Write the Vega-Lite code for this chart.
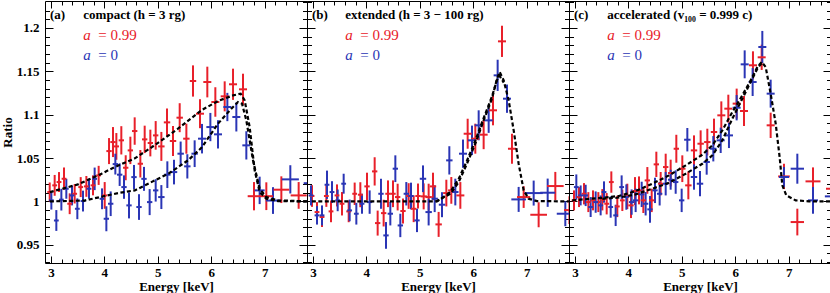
{
"$schema": "https://vega.github.io/schema/vega-lite/v6.json",
"padding": {"left": 0, "top": 0, "right": 1, "bottom": 0},
"spacing": 0,
"bounds": "flush",
"config": {
 "font": "Liberation Serif",
 "view": {"stroke": "black", "strokeWidth": 1},
 "axis": {"labelFont": "Liberation Serif", "labelFontWeight": "bold", "labelFontSize": 13, "labelColor": "black", "titleFont": "Liberation Serif", "titleFontWeight": "bold", "titleFontSize": 13, "titleColor": "black", "domain": false, "grid": false, "tickColor": "black", "tickWidth": 1, "labelOverlap": false, "labelFlush": false, "labelBound": false}
},
"datasets": {
 "pts": [
{"p":"a","s":"r","e":2.978,"xe":0.045,"r":1.0108,"ye":0.011},{"p":"a","s":"r","e":3.071,"xe":0.045,"r":1.0185,"ye":0.012},{"p":"a","s":"r","e":3.152,"xe":0.045,"r":1.0223,"ye":0.0115},{"p":"a","s":"r","e":3.246,"xe":0.045,"r":1.0261,"ye":0.013},{"p":"a","s":"r","e":3.352,"xe":0.045,"r":0.9973,"ye":0.012},{"p":"a","s":"r","e":3.445,"xe":0.045,"r":1.0088,"ye":0.0112},{"p":"a","s":"r","e":3.558,"xe":0.045,"r":1.0165,"ye":0.0115},{"p":"a","s":"r","e":3.664,"xe":0.045,"r":1.0173,"ye":0.012},{"p":"a","s":"r","e":3.788,"xe":0.045,"r":1.0185,"ye":0.0115},{"p":"a","s":"r","e":3.894,"xe":0.045,"r":1.030,"ye":0.011},
{"p":"a","s":"r","e":4.007,"xe":0.05,"r":1.0069,"ye":0.0154},{"p":"a","s":"r","e":4.088,"xe":0.05,"r":1.058,"ye":0.015},{"p":"a","s":"r","e":4.162,"xe":0.05,"r":1.0684,"ye":0.0173},{"p":"a","s":"r","e":4.225,"xe":0.05,"r":1.0634,"ye":0.0154},{"p":"a","s":"r","e":4.318,"xe":0.05,"r":1.0704,"ye":0.0163},{"p":"a","s":"r","e":4.400,"xe":0.05,"r":1.0388,"ye":0.0144},{"p":"a","s":"r","e":4.487,"xe":0.05,"r":1.0588,"ye":0.0158},{"p":"a","s":"r","e":4.568,"xe":0.05,"r":1.0811,"ye":0.0158},{"p":"a","s":"r","e":4.674,"xe":0.05,"r":1.0434,"ye":0.0158},{"p":"a","s":"r","e":4.755,"xe":0.05,"r":1.0715,"ye":0.0158},{"p":"a","s":"r","e":4.861,"xe":0.05,"r":1.0673,"ye":0.0154},{"p":"a","s":"r","e":4.961,"xe":0.05,"r":1.0761,"ye":0.0165},
{"p":"a","s":"r","e":5.067,"xe":0.06,"r":1.0634,"ye":0.0167},{"p":"a","s":"r","e":5.173,"xe":0.06,"r":1.0911,"ye":0.016},{"p":"a","s":"r","e":5.285,"xe":0.06,"r":1.0696,"ye":0.0173},{"p":"a","s":"r","e":5.410,"xe":0.06,"r":1.0965,"ye":0.0167},{"p":"a","s":"r","e":5.535,"xe":0.06,"r":1.0723,"ye":0.0173},{"p":"a","s":"r","e":5.659,"xe":0.06,"r":1.1388,"ye":0.018},{"p":"a","s":"r","e":5.790,"xe":0.075,"r":1.1011,"ye":0.0167},{"p":"a","s":"r","e":5.927,"xe":0.075,"r":1.1376,"ye":0.0177},{"p":"a","s":"r","e":6.077,"xe":0.075,"r":1.1146,"ye":0.017},{"p":"a","s":"r","e":6.252,"xe":0.075,"r":1.1211,"ye":0.0173},{"p":"a","s":"r","e":6.408,"xe":0.075,"r":1.135,"ye":0.018},{"p":"a","s":"r","e":6.595,"xe":0.075,"r":1.1292,"ye":0.018},{"p":"a","s":"r","e":6.800,"xe":0.118,"r":1.006,"ye":0.0163},{"p":"a","s":"r","e":7.031,"xe":0.125,"r":1.006,"ye":0.016},{"p":"a","s":"r","e":7.312,"xe":0.147,"r":1.0135,"ye":0.0154},{"p":"a","s":"r","e":7.636,"xe":0.15,"r":1.0069,"ye":0.0154},
{"p":"a","s":"b","e":3.009,"xe":0.045,"r":1.0012,"ye":0.0106},{"p":"a","s":"b","e":3.102,"xe":0.045,"r":0.978,"ye":0.012},{"p":"a","s":"b","e":3.196,"xe":0.045,"r":1.002,"ye":0.0125},{"p":"a","s":"b","e":3.289,"xe":0.045,"r":1.0146,"ye":0.0115},{"p":"a","s":"b","e":3.395,"xe":0.045,"r":1.0069,"ye":0.0115},{"p":"a","s":"b","e":3.495,"xe":0.045,"r":0.9915,"ye":0.012},{"p":"a","s":"b","e":3.601,"xe":0.045,"r":1.0004,"ye":0.012},{"p":"a","s":"b","e":3.713,"xe":0.045,"r":1.0146,"ye":0.0115},{"p":"a","s":"b","e":3.819,"xe":0.045,"r":1.026,"ye":0.013},{"p":"a","s":"b","e":3.957,"xe":0.045,"r":1.003,"ye":0.012},
{"p":"a","s":"b","e":4.038,"xe":0.05,"r":0.98,"ye":0.0144},{"p":"a","s":"b","e":4.119,"xe":0.05,"r":0.9973,"ye":0.0142},{"p":"a","s":"b","e":4.206,"xe":0.05,"r":1.043,"ye":0.012},{"p":"a","s":"b","e":4.287,"xe":0.05,"r":1.0308,"ye":0.013},{"p":"a","s":"b","e":4.368,"xe":0.05,"r":1.0165,"ye":0.0135},{"p":"a","s":"b","e":4.462,"xe":0.05,"r":0.9954,"ye":0.015},{"p":"a","s":"b","e":4.555,"xe":0.05,"r":1.028,"ye":0.014},{"p":"a","s":"b","e":4.649,"xe":0.05,"r":0.9935,"ye":0.0148},{"p":"a","s":"b","e":4.742,"xe":0.05,"r":1.026,"ye":0.0138},{"p":"a","s":"b","e":4.848,"xe":0.05,"r":0.9992,"ye":0.015},{"p":"a","s":"b","e":4.961,"xe":0.05,"r":1.0127,"ye":0.0129},
{"p":"a","s":"b","e":5.067,"xe":0.06,"r":1.005,"ye":0.0138},{"p":"a","s":"b","e":5.179,"xe":0.06,"r":1.0308,"ye":0.0154},{"p":"a","s":"b","e":5.304,"xe":0.06,"r":1.0338,"ye":0.0142},{"p":"a","s":"b","e":5.428,"xe":0.06,"r":1.055,"ye":0.014},{"p":"a","s":"b","e":5.553,"xe":0.06,"r":1.0404,"ye":0.014},{"p":"a","s":"b","e":5.690,"xe":0.06,"r":1.055,"ye":0.0154},{"p":"a","s":"b","e":5.828,"xe":0.075,"r":1.0723,"ye":0.017},{"p":"a","s":"b","e":5.984,"xe":0.075,"r":1.0857,"ye":0.0163},{"p":"a","s":"b","e":6.127,"xe":0.075,"r":1.0773,"ye":0.0163},{"p":"a","s":"b","e":6.302,"xe":0.075,"r":1.1088,"ye":0.0163},{"p":"a","s":"b","e":6.470,"xe":0.075,"r":1.0973,"ye":0.0167},{"p":"a","s":"b","e":6.657,"xe":0.075,"r":1.0646,"ye":0.0163},{"p":"a","s":"b","e":6.906,"xe":0.094,"r":1.0127,"ye":0.0158},{"p":"a","s":"b","e":7.156,"xe":0.134,"r":1.001,"ye":0.0154},{"p":"a","s":"b","e":7.48,"xe":0.16,"r":1.0254,"ye":0.0163},{"p":"a","s":"b","e":7.85,"xe":0.12,"r":1.021,"ye":0.016},
{"p":"b","s":"r","e":2.984,"xe":0.045,"r":1.0062,"ye":0.0125},{"p":"b","s":"r","e":3.077,"xe":0.045,"r":0.9877,"ye":0.0115},{"p":"b","s":"r","e":3.171,"xe":0.045,"r":0.982,"ye":0.0115},{"p":"b","s":"r","e":3.252,"xe":0.045,"r":1.0062,"ye":0.0125},{"p":"b","s":"r","e":3.339,"xe":0.045,"r":0.9885,"ye":0.0125},{"p":"b","s":"r","e":3.451,"xe":0.045,"r":1.0069,"ye":0.0127},{"p":"b","s":"r","e":3.545,"xe":0.045,"r":0.9973,"ye":0.0135},{"p":"b","s":"r","e":3.67,"xe":0.045,"r":0.9885,"ye":0.0125},{"p":"b","s":"r","e":3.782,"xe":0.045,"r":1.0088,"ye":0.0129},{"p":"b","s":"r","e":3.888,"xe":0.045,"r":1.0077,"ye":0.0144},
{"p":"b","s":"r","e":4.013,"xe":0.05,"r":1.0173,"ye":0.0158},{"p":"b","s":"r","e":4.156,"xe":0.05,"r":1.0346,"ye":0.0163},{"p":"b","s":"r","e":4.212,"xe":0.05,"r":0.975,"ye":0.0144},{"p":"b","s":"r","e":4.324,"xe":0.05,"r":0.9865,"ye":0.0154},{"p":"b","s":"r","e":4.405,"xe":0.05,"r":1.0088,"ye":0.0154},{"p":"b","s":"r","e":4.499,"xe":0.05,"r":1.0088,"ye":0.0154},{"p":"b","s":"r","e":4.586,"xe":0.05,"r":1.005,"ye":0.0154},{"p":"b","s":"r","e":4.686,"xe":0.05,"r":0.9889,"ye":0.0144},{"p":"b","s":"r","e":4.792,"xe":0.05,"r":1.0062,"ye":0.0148},{"p":"b","s":"r","e":4.886,"xe":0.05,"r":0.9915,"ye":0.0154},{"p":"b","s":"r","e":4.967,"xe":0.05,"r":1.0062,"ye":0.0144},
{"p":"b","s":"r","e":5.073,"xe":0.06,"r":1.0058,"ye":0.015},{"p":"b","s":"r","e":5.166,"xe":0.06,"r":1.005,"ye":0.0154},{"p":"b","s":"r","e":5.247,"xe":0.06,"r":1.0173,"ye":0.0158},{"p":"b","s":"r","e":5.353,"xe":0.06,"r":0.9735,"ye":0.0144},{"p":"b","s":"r","e":5.497,"xe":0.06,"r":1.0096,"ye":0.0154},{"p":"b","s":"r","e":5.59,"xe":0.06,"r":1.0127,"ye":0.0154},{"p":"b","s":"r","e":5.759,"xe":0.075,"r":1.0069,"ye":0.0154},{"p":"b","s":"r","e":5.896,"xe":0.075,"r":1.078,"ye":0.0173},{"p":"b","s":"r","e":6.039,"xe":0.075,"r":1.0723,"ye":0.0173},{"p":"b","s":"r","e":6.195,"xe":0.075,"r":1.0769,"ye":0.0167},{"p":"b","s":"r","e":6.37,"xe":0.075,"r":1.105,"ye":0.0173},{"p":"b","s":"r","e":6.538,"xe":0.075,"r":1.1845,"ye":0.018},{"p":"b","s":"r","e":6.725,"xe":0.075,"r":1.0607,"ye":0.0173},{"p":"b","s":"r","e":6.944,"xe":0.125,"r":1.005,"ye":0.0125},{"p":"b","s":"r","e":7.224,"xe":0.156,"r":0.9846,"ye":0.0144},{"p":"b","s":"r","e":7.536,"xe":0.156,"r":1.0177,"ye":0.0163},{"p":"b","s":"r","e":7.8,"xe":0.1,"r":0.99,"ye":0.016},
{"p":"b","s":"b","e":2.965,"xe":0.045,"r":1.0069,"ye":0.0115},{"p":"b","s":"b","e":3.077,"xe":0.045,"r":0.9839,"ye":0.0106},{"p":"b","s":"b","e":3.171,"xe":0.045,"r":0.9839,"ye":0.0115},{"p":"b","s":"b","e":3.264,"xe":0.045,"r":1.0192,"ye":0.0163},{"p":"b","s":"b","e":3.358,"xe":0.045,"r":1.0108,"ye":0.0125},{"p":"b","s":"b","e":3.464,"xe":0.045,"r":1.0012,"ye":0.0125},{"p":"b","s":"b","e":3.576,"xe":0.045,"r":1.0204,"ye":0.0115},{"p":"b","s":"b","e":3.688,"xe":0.045,"r":0.9896,"ye":0.0125},{"p":"b","s":"b","e":3.813,"xe":0.045,"r":0.9858,"ye":0.0125},{"p":"b","s":"b","e":3.919,"xe":0.045,"r":0.9973,"ye":0.0115},
{"p":"b","s":"b","e":4.062,"xe":0.05,"r":0.9992,"ye":0.0135},{"p":"b","s":"b","e":4.274,"xe":0.05,"r":1.0088,"ye":0.0173},{"p":"b","s":"b","e":4.368,"xe":0.05,"r":0.9608,"ye":0.0154},{"p":"b","s":"b","e":4.449,"xe":0.05,"r":0.9858,"ye":0.0135},{"p":"b","s":"b","e":4.543,"xe":0.05,"r":1.0377,"ye":0.0154},{"p":"b","s":"b","e":4.636,"xe":0.05,"r":0.9723,"ye":0.0135},{"p":"b","s":"b","e":4.748,"xe":0.05,"r":1.0088,"ye":0.0135},{"p":"b","s":"b","e":4.836,"xe":0.05,"r":1.0062,"ye":0.0154},{"p":"b","s":"b","e":4.948,"xe":0.05,"r":0.9781,"ye":0.0135},
{"p":"b","s":"b","e":5.06,"xe":0.06,"r":1.0261,"ye":0.0154},{"p":"b","s":"b","e":5.166,"xe":0.06,"r":0.9877,"ye":0.0154},{"p":"b","s":"b","e":5.279,"xe":0.06,"r":1.0031,"ye":0.0154},{"p":"b","s":"b","e":5.416,"xe":0.06,"r":0.9962,"ye":0.0144},{"p":"b","s":"b","e":5.553,"xe":0.06,"r":1.0473,"ye":0.0163},{"p":"b","s":"b","e":5.665,"xe":0.06,"r":1.0108,"ye":0.0154},{"p":"b","s":"b","e":5.809,"xe":0.075,"r":1.055,"ye":0.0163},{"p":"b","s":"b","e":5.977,"xe":0.075,"r":1.0704,"ye":0.017},{"p":"b","s":"b","e":6.102,"xe":0.075,"r":1.0877,"ye":0.0173},{"p":"b","s":"b","e":6.289,"xe":0.075,"r":1.0934,"ye":0.0144},{"p":"b","s":"b","e":6.457,"xe":0.075,"r":1.1453,"ye":0.018},{"p":"b","s":"b","e":6.632,"xe":0.075,"r":1.1184,"ye":0.0163},{"p":"b","s":"b","e":6.85,"xe":0.137,"r":1.0023,"ye":0.0144},{"p":"b","s":"b","e":7.131,"xe":0.17,"r":1.0096,"ye":0.0144},{"p":"b","s":"b","e":7.393,"xe":0.14,"r":1.01,"ye":0.0163},{"p":"b","s":"b","e":7.723,"xe":0.16,"r":0.9858,"ye":0.0144},
{"p":"c","s":"r","e":2.984,"xe":0.045,"r":1.0012,"ye":0.0115},{"p":"c","s":"r","e":3.077,"xe":0.045,"r":1.005,"ye":0.0115},{"p":"c","s":"r","e":3.171,"xe":0.045,"r":1.0088,"ye":0.0123},{"p":"c","s":"r","e":3.252,"xe":0.045,"r":0.9992,"ye":0.0115},{"p":"c","s":"r","e":3.339,"xe":0.045,"r":1.0012,"ye":0.0115},{"p":"c","s":"r","e":3.439,"xe":0.045,"r":0.9992,"ye":0.0115},{"p":"c","s":"r","e":3.514,"xe":0.045,"r":1.0019,"ye":0.0123},{"p":"c","s":"r","e":3.595,"xe":0.045,"r":0.9973,"ye":0.0123},{"p":"c","s":"r","e":3.682,"xe":0.045,"r":1.0223,"ye":0.0123},{"p":"c","s":"r","e":3.794,"xe":0.045,"r":0.9942,"ye":0.0123},{"p":"c","s":"r","e":3.888,"xe":0.045,"r":1.0012,"ye":0.0123},{"p":"c","s":"r","e":3.981,"xe":0.045,"r":1.0058,"ye":0.0146},
{"p":"c","s":"r","e":4.05,"xe":0.05,"r":0.9954,"ye":0.0146},{"p":"c","s":"r","e":4.125,"xe":0.05,"r":1.0119,"ye":0.0161},{"p":"c","s":"r","e":4.2,"xe":0.05,"r":1.0127,"ye":0.0161},{"p":"c","s":"r","e":4.281,"xe":0.05,"r":1.0012,"ye":0.0146},{"p":"c","s":"r","e":4.356,"xe":0.05,"r":1.0242,"ye":0.0154},{"p":"c","s":"r","e":4.437,"xe":0.05,"r":1.0012,"ye":0.0135},{"p":"c","s":"r","e":4.524,"xe":0.05,"r":1.0427,"ye":0.0146},{"p":"c","s":"r","e":4.605,"xe":0.05,"r":1.0204,"ye":0.0135},{"p":"c","s":"r","e":4.699,"xe":0.05,"r":1.0396,"ye":0.0154},{"p":"c","s":"r","e":4.792,"xe":0.05,"r":1.0327,"ye":0.0154},{"p":"c","s":"r","e":4.898,"xe":0.05,"r":1.0607,"ye":0.0161},
{"p":"c","s":"r","e":5.01,"xe":0.06,"r":1.0377,"ye":0.0154},{"p":"c","s":"r","e":5.123,"xe":0.06,"r":1.0185,"ye":0.0161},{"p":"c","s":"r","e":5.229,"xe":0.06,"r":1.0588,"ye":0.0173},{"p":"c","s":"r","e":5.353,"xe":0.06,"r":1.0665,"ye":0.0154},{"p":"c","s":"r","e":5.478,"xe":0.06,"r":1.0684,"ye":0.0154},{"p":"c","s":"r","e":5.603,"xe":0.06,"r":1.08,"ye":0.0154},{"p":"c","s":"r","e":5.74,"xe":0.075,"r":1.0992,"ye":0.0161},{"p":"c","s":"r","e":5.871,"xe":0.075,"r":1.1069,"ye":0.0161},{"p":"c","s":"r","e":6.027,"xe":0.075,"r":1.1127,"ye":0.0173},{"p":"c","s":"r","e":6.164,"xe":0.075,"r":1.1042,"ye":0.0173},{"p":"c","s":"r","e":6.332,"xe":0.075,"r":1.1569,"ye":0.0161},{"p":"c","s":"r","e":6.495,"xe":0.075,"r":1.1661,"ye":0.0146},{"p":"c","s":"r","e":6.663,"xe":0.075,"r":1.0877,"ye":0.0146},{"p":"c","s":"r","e":6.912,"xe":0.109,"r":1.0288,"ye":0.0146},{"p":"c","s":"r","e":7.162,"xe":0.125,"r":0.9762,"ye":0.0154},{"p":"c","s":"r","e":7.455,"xe":0.14,"r":1.0231,"ye":0.0161},{"p":"c","s":"r","e":7.848,"xe":0.15,"r":1.0146,"ye":0.016},
{"p":"c","s":"b","e":3.027,"xe":0.045,"r":1.0165,"ye":0.0146},{"p":"c","s":"b","e":3.108,"xe":0.045,"r":1.0069,"ye":0.0115},{"p":"c","s":"b","e":3.202,"xe":0.045,"r":1.0069,"ye":0.0123},{"p":"c","s":"b","e":3.295,"xe":0.045,"r":0.9935,"ye":0.0115},{"p":"c","s":"b","e":3.389,"xe":0.045,"r":0.9992,"ye":0.0123},{"p":"c","s":"b","e":3.482,"xe":0.045,"r":0.9954,"ye":0.0115},{"p":"c","s":"b","e":3.545,"xe":0.045,"r":1.0108,"ye":0.0123},{"p":"c","s":"b","e":3.67,"xe":0.045,"r":0.9935,"ye":0.0123},{"p":"c","s":"b","e":3.763,"xe":0.045,"r":0.9839,"ye":0.0123},{"p":"c","s":"b","e":3.875,"xe":0.045,"r":1.0165,"ye":0.0135},{"p":"c","s":"b","e":3.963,"xe":0.045,"r":1.005,"ye":0.0146},
{"p":"c","s":"b","e":4.062,"xe":0.05,"r":0.9992,"ye":0.0146},{"p":"c","s":"b","e":4.137,"xe":0.05,"r":1.0012,"ye":0.0135},{"p":"c","s":"b","e":4.25,"xe":0.05,"r":1.0081,"ye":0.0146},{"p":"c","s":"b","e":4.324,"xe":0.05,"r":0.9973,"ye":0.0135},{"p":"c","s":"b","e":4.405,"xe":0.05,"r":0.9908,"ye":0.0154},{"p":"c","s":"b","e":4.499,"xe":0.05,"r":1.0127,"ye":0.0146},{"p":"c","s":"b","e":4.586,"xe":0.05,"r":1.0088,"ye":0.0135},{"p":"c","s":"b","e":4.699,"xe":0.05,"r":1.0204,"ye":0.0135},{"p":"c","s":"b","e":4.792,"xe":0.05,"r":1.025,"ye":0.0115},{"p":"c","s":"b","e":4.886,"xe":0.05,"r":1.0223,"ye":0.0135},{"p":"c","s":"b","e":4.998,"xe":0.05,"r":1.0012,"ye":0.0135},
{"p":"c","s":"b","e":5.104,"xe":0.06,"r":1.0711,"ye":0.0135},{"p":"c","s":"b","e":5.229,"xe":0.06,"r":1.0281,"ye":0.0146},{"p":"c","s":"b","e":5.341,"xe":0.06,"r":1.0204,"ye":0.0146},{"p":"c","s":"b","e":5.466,"xe":0.06,"r":1.0454,"ye":0.0146},{"p":"c","s":"b","e":5.59,"xe":0.06,"r":1.0607,"ye":0.0146},{"p":"c","s":"b","e":5.728,"xe":0.075,"r":1.0704,"ye":0.0146},{"p":"c","s":"b","e":5.883,"xe":0.075,"r":1.0761,"ye":0.0146},{"p":"c","s":"b","e":6.027,"xe":0.075,"r":1.108,"ye":0.0146},{"p":"c","s":"b","e":6.177,"xe":0.075,"r":1.158,"ye":0.0161},{"p":"c","s":"b","e":6.326,"xe":0.075,"r":1.1376,"ye":0.0161},{"p":"c","s":"b","e":6.507,"xe":0.075,"r":1.178,"ye":0.0185},{"p":"c","s":"b","e":6.663,"xe":0.075,"r":1.1242,"ye":0.0161},{"p":"c","s":"b","e":6.912,"xe":0.094,"r":1.0281,"ye":0.0115},{"p":"c","s":"b","e":7.162,"xe":0.125,"r":1.0377,"ye":0.0173},{"p":"c","s":"b","e":7.455,"xe":0.094,"r":1.0012,"ye":0.0154},{"p":"c","s":"b","e":7.817,"xe":0.14,"r":1.0058,"ye":0.016}
 ],
 "model": [
{"p":"a","m":"r","e":2.98,"r":1.0107},{"p":"a","m":"r","e":3.508,"r":1.0196},{"p":"a","m":"r","e":3.95,"r":1.032},{"p":"a","m":"r","e":4.194,"r":1.0396},{"p":"a","m":"r","e":4.57,"r":1.0496},{"p":"a","m":"r","e":4.89,"r":1.0626},{"p":"a","m":"r","e":5.378,"r":1.0838},{"p":"a","m":"r","e":5.815,"r":1.105},{"p":"a","m":"r","e":6.127,"r":1.1157},{"p":"a","m":"r","e":6.408,"r":1.1222},{"p":"a","m":"r","e":6.551,"r":1.1242},{"p":"a","m":"r","e":6.626,"r":1.1165},{"p":"a","m":"r","e":6.719,"r":1.0857},{"p":"a","m":"r","e":6.813,"r":1.0358},{"p":"a","m":"r","e":6.906,"r":1.0108},{"p":"a","m":"r","e":7.031,"r":1.003},{"p":"a","m":"r","e":7.25,"r":1.0004},{"p":"a","m":"r","e":7.79,"r":1.0},
{"p":"a","m":"b","e":2.98,"r":1.0},{"p":"a","m":"b","e":3.63,"r":1.001},{"p":"a","m":"b","e":4.256,"r":1.0096},{"p":"a","m":"b","e":4.57,"r":1.0127},{"p":"a","m":"b","e":5.2,"r":1.032},{"p":"a","m":"b","e":5.566,"r":1.0473},{"p":"a","m":"b","e":5.82,"r":1.062},{"p":"a","m":"b","e":6.127,"r":1.0896},{"p":"a","m":"b","e":6.376,"r":1.1069},{"p":"a","m":"b","e":6.501,"r":1.1146},{"p":"a","m":"b","e":6.576,"r":1.1127},{"p":"a","m":"b","e":6.657,"r":1.0934},{"p":"a","m":"b","e":6.782,"r":1.0473},{"p":"a","m":"b","e":6.906,"r":1.0146},{"p":"a","m":"b","e":7.031,"r":1.005},{"p":"a","m":"b","e":7.25,"r":1.0012},{"p":"a","m":"b","e":7.79,"r":1.0},
{"p":"b","m":"r","e":2.98,"r":1.0},{"p":"b","m":"r","e":5.322,"r":1.0},{"p":"b","m":"r","e":5.384,"r":1.0027},{"p":"b","m":"r","e":5.572,"r":1.0088},{"p":"b","m":"r","e":5.728,"r":1.0223},{"p":"b","m":"r","e":5.883,"r":1.0434},{"p":"b","m":"r","e":6.039,"r":1.0665},{"p":"b","m":"r","e":6.195,"r":1.0934},{"p":"b","m":"r","e":6.351,"r":1.1184},{"p":"b","m":"r","e":6.445,"r":1.1415},{"p":"b","m":"r","e":6.495,"r":1.1492},{"p":"b","m":"r","e":6.57,"r":1.1396},{"p":"b","m":"r","e":6.663,"r":1.1165},{"p":"b","m":"r","e":6.757,"r":1.0819},{"p":"b","m":"r","e":6.85,"r":1.0434},{"p":"b","m":"r","e":6.944,"r":1.0127},{"p":"b","m":"r","e":7.037,"r":1.0031},{"p":"b","m":"r","e":7.193,"r":1.0004},{"p":"b","m":"r","e":7.79,"r":1.0},
{"p":"b","m":"b","e":5.3,"r":1.0},{"p":"b","m":"b","e":5.4,"r":1.003},{"p":"b","m":"b","e":5.572,"r":1.011},{"p":"b","m":"b","e":5.728,"r":1.026},{"p":"b","m":"b","e":5.883,"r":1.047},{"p":"b","m":"b","e":6.039,"r":1.07},{"p":"b","m":"b","e":6.195,"r":1.096},{"p":"b","m":"b","e":6.351,"r":1.121},{"p":"b","m":"b","e":6.445,"r":1.14},{"p":"b","m":"b","e":6.49,"r":1.145},{"p":"b","m":"b","e":6.57,"r":1.137},
{"p":"c","m":"r","e":2.95,"r":1.0012},{"p":"c","m":"r","e":3.514,"r":1.0042},{"p":"c","m":"r","e":3.825,"r":1.0062},{"p":"c","m":"r","e":4.137,"r":1.0119},{"p":"c","m":"r","e":4.449,"r":1.0204},{"p":"c","m":"r","e":4.761,"r":1.03},{"p":"c","m":"r","e":5.073,"r":1.0415},{"p":"c","m":"r","e":5.385,"r":1.0538},{"p":"c","m":"r","e":5.572,"r":1.0646},{"p":"c","m":"r","e":5.759,"r":1.0819},{"p":"c","m":"r","e":5.946,"r":1.103},{"p":"c","m":"r","e":6.133,"r":1.1223},{"p":"c","m":"r","e":6.289,"r":1.1396},{"p":"c","m":"r","e":6.414,"r":1.1549},{"p":"c","m":"r","e":6.495,"r":1.1607},{"p":"c","m":"r","e":6.57,"r":1.1549},{"p":"c","m":"r","e":6.663,"r":1.1242},{"p":"c","m":"r","e":6.757,"r":1.0896},{"p":"c","m":"r","e":6.831,"r":1.0511},{"p":"c","m":"r","e":6.881,"r":1.0185},{"p":"c","m":"r","e":6.956,"r":1.0069},{"p":"c","m":"r","e":7.131,"r":1.0012},{"p":"c","m":"r","e":7.38,"r":1.0},{"p":"c","m":"r","e":7.79,"r":1.0},
{"p":"c","m":"b","e":3.514,"r":1.003},{"p":"c","m":"b","e":3.825,"r":1.0045},{"p":"c","m":"b","e":4.137,"r":1.0081},{"p":"c","m":"b","e":4.449,"r":1.0146},{"p":"c","m":"b","e":4.761,"r":1.0215},{"p":"c","m":"b","e":5.073,"r":1.0319},{"p":"c","m":"b","e":5.385,"r":1.0434},{"p":"c","m":"b","e":5.572,"r":1.0531},{"p":"c","m":"b","e":5.759,"r":1.0704},{"p":"c","m":"b","e":5.946,"r":1.0953},{"p":"c","m":"b","e":6.133,"r":1.1184},{"p":"c","m":"b","e":6.289,"r":1.1376},{"p":"c","m":"b","e":6.414,"r":1.153},{"p":"c","m":"b","e":6.495,"r":1.1596}
 ],
 "ttl": [
{"p":"a","e":2.984,"r":1.2103,"t":"(a)"},{"p":"a","e":3.607,"r":1.2103,"t":"compact (h = 3 rg)"},
{"p":"b","e":2.984,"r":1.2103,"t":"(b)"},{"p":"b","e":3.607,"r":1.2103,"t":"extended (h = 3 − 100 rg)"},
{"p":"c","e":2.984,"r":1.2103,"t":"(c)"},{"p":"c","e":3.607,"r":1.2103,"t":"accelerated (v₁₀₀ = 0.999 c)"}
 ],
 "lab": [
{"p":"a","s":"r","e":3.607,"r":1.1865,"t":"= 0.99"},{"p":"a","s":"b","e":3.607,"r":1.1626,"t":"= 0"},
{"p":"b","s":"r","e":3.607,"r":1.1865,"t":"= 0.99"},{"p":"b","s":"b","e":3.607,"r":1.1626,"t":"= 0"},
{"p":"c","s":"r","e":3.607,"r":1.1865,"t":"= 0.99"},{"p":"c","s":"b","e":3.607,"r":1.1626,"t":"= 0"}
 ]
},
"hconcat": [
 {"width": 262, "height": 262,
  "layer": [
   {"mark": {"type": "rule", "color": "black", "strokeWidth": 2}, "encoding": {"y": {"datum": 1, "type": "quantitative", "scale": {"domain": [0.929, 1.231], "nice": false, "zero": false}, "axis": null}}},
   {"data": {"name": "pts"}, "transform": [{"filter": "datum.p=='a'"}], "mark": {"type": "errorbar", "thickness": 2, "clip": true},
    "encoding": {"x": {"field": "e", "type": "quantitative", "scale": {"domain": [2.89, 7.792], "nice": false, "zero": false}, "axis": {"orient": "bottom", "values": [3,3.2,3.4,3.6,3.8,4,4.2,4.4,4.6,4.8,5,5.2,5.4,5.6,5.8,6,6.2,6.4,6.6,6.8,7,7.2,7.4,7.6], "labelExpr": "abs(datum.value-round(datum.value))<0.01 ? format(datum.value,'d') : ''", "tickSize": {"condition": {"test": "abs(datum.value-round(datum.value))<0.01", "value": -7}, "value": -4}, "labelPadding": 10, "title": "Energy [keV]", "titlePadding": -2}},
     "y": {"field": "r", "type": "quantitative", "scale": {"domain": [0.929, 1.231], "nice": false, "zero": false}, "axis": {"orient": "left", "values": [0.93,0.94,0.95,0.96,0.97,0.98,0.99,1,1.01,1.02,1.03,1.04,1.05,1.06,1.07,1.08,1.09,1.1,1.11,1.12,1.13,1.14,1.15,1.16,1.17,1.18,1.19,1.2,1.21,1.22], "labelExpr": "abs(datum.value*20-round(datum.value*20))<0.01 ? format(datum.value,'~g') : ''", "tickSize": {"condition": {"test": "abs(datum.value*20-round(datum.value*20))<0.01", "value": -8}, "value": -4.5}, "labelPadding": 14, "title": "Ratio", "titlePadding": 2}},
     "yError": {"field": "ye"},
     "color": {"field": "s", "type": "nominal", "scale": {"domain": ["r", "b"], "range": ["#e8202a", "#2a35b5"]}, "legend": null}}},
   {"data": {"name": "pts"}, "transform": [{"filter": "datum.p=='a'"}], "mark": {"type": "errorbar", "thickness": 2, "clip": true},
    "encoding": {"x": {"field": "e", "type": "quantitative", "scale": {"domain": [2.89, 7.792], "nice": false, "zero": false}, "axis": null},
     "y": {"field": "r", "type": "quantitative", "scale": {"domain": [0.929, 1.231], "nice": false, "zero": false}, "axis": null},
     "xError": {"field": "xe"},
     "color": {"field": "s", "type": "nominal", "scale": {"domain": ["r", "b"], "range": ["#e8202a", "#2a35b5"]}, "legend": null}}},
   {"data": {"name": "model"}, "transform": [{"filter": "datum.p=='a'"}], "mark": {"type": "line", "color": "black", "strokeWidth": 2.2, "strokeDash": [4, 2.5], "clip": true},
    "encoding": {"x": {"field": "e", "type": "quantitative", "scale": {"domain": [2.89, 7.792], "nice": false, "zero": false}, "axis": {"orient": "top", "values": [3,3.2,3.4,3.6,3.8,4,4.2,4.4,4.6,4.8,5,5.2,5.4,5.6,5.8,6,6.2,6.4,6.6,6.8,7,7.2,7.4,7.6], "labels": false, "title": null, "tickSize": {"condition": {"test": "abs(datum.value-round(datum.value))<0.01", "value": -7}, "value": -4}}},
     "y": {"field": "r", "type": "quantitative", "scale": {"domain": [0.929, 1.231], "nice": false, "zero": false}, "axis": {"orient": "right", "values": [0.93,0.94,0.95,0.96,0.97,0.98,0.99,1,1.01,1.02,1.03,1.04,1.05,1.06,1.07,1.08,1.09,1.1,1.11,1.12,1.13,1.14,1.15,1.16,1.17,1.18,1.19,1.2,1.21,1.22,1.23], "labels": false, "title": null, "tickSize": {"condition": {"test": "abs(datum.value*20-round(datum.value*20))<0.01", "value": -8}, "value": -4.5}}},
     "detail": {"field": "m"}}},
   {"data": {"name": "ttl"}, "transform": [{"filter": "datum.p=='a'"}], "mark": {"type": "text", "align": "left", "baseline": "alphabetic", "font": "Liberation Serif", "fontWeight": "bold", "fontSize": 13, "color": "black"},
    "encoding": {"x": {"field": "e", "type": "quantitative", "scale": {"domain": [2.89, 7.792], "nice": false, "zero": false}, "axis": null}, "y": {"field": "r", "type": "quantitative", "scale": {"domain": [0.929, 1.231], "nice": false, "zero": false}, "axis": null}, "text": {"field": "t"}}},
   {"data": {"name": "lab"}, "transform": [{"filter": "datum.p=='a'"}], "mark": {"type": "text", "align": "left", "baseline": "alphabetic", "font": "Liberation Serif", "fontStyle": "italic", "fontSize": 15, "text": "a"},
    "encoding": {"x": {"field": "e", "type": "quantitative", "scale": {"domain": [2.89, 7.792], "nice": false, "zero": false}, "axis": null}, "y": {"field": "r", "type": "quantitative", "scale": {"domain": [0.929, 1.231], "nice": false, "zero": false}, "axis": null}, "color": {"field": "s", "type": "nominal", "scale": {"domain": ["r", "b"], "range": ["#e8202a", "#2a35b5"]}, "legend": null}}},
   {"data": {"name": "lab"}, "transform": [{"filter": "datum.p=='a'"}], "mark": {"type": "text", "align": "left", "baseline": "alphabetic", "font": "Liberation Serif", "fontSize": 15, "dx": 15},
    "encoding": {"x": {"field": "e", "type": "quantitative", "scale": {"domain": [2.89, 7.792], "nice": false, "zero": false}, "axis": null}, "y": {"field": "r", "type": "quantitative", "scale": {"domain": [0.929, 1.231], "nice": false, "zero": false}, "axis": null}, "text": {"field": "t"}, "color": {"field": "s", "type": "nominal", "scale": {"domain": ["r", "b"], "range": ["#e8202a", "#2a35b5"]}, "legend": null}}}
  ],
  "resolve": {"axis": {"x": "independent", "y": "independent"}}
 },
 {"width": 262, "height": 262,
  "layer": [
   {"mark": {"type": "rule", "color": "black", "strokeWidth": 2}, "encoding": {"y": {"datum": 1, "type": "quantitative", "scale": {"domain": [0.929, 1.231], "nice": false, "zero": false}, "axis": null}}},
   {"data": {"name": "pts"}, "transform": [{"filter": "datum.p=='b'"}], "mark": {"type": "errorbar", "thickness": 2, "clip": true},
    "encoding": {"x": {"field": "e", "type": "quantitative", "scale": {"domain": [2.89, 7.792], "nice": false, "zero": false}, "axis": {"orient": "bottom", "values": [3,3.2,3.4,3.6,3.8,4,4.2,4.4,4.6,4.8,5,5.2,5.4,5.6,5.8,6,6.2,6.4,6.6,6.8,7,7.2,7.4,7.6], "labelExpr": "abs(datum.value-round(datum.value))<0.01 ? format(datum.value,'d') : ''", "tickSize": {"condition": {"test": "abs(datum.value-round(datum.value))<0.01", "value": -7}, "value": -4}, "labelPadding": 10, "title": "Energy [keV]", "titlePadding": -2}},
     "y": {"field": "r", "type": "quantitative", "scale": {"domain": [0.929, 1.231], "nice": false, "zero": false}, "axis": {"orient": "left", "values": [0.93,0.94,0.95,0.96,0.97,0.98,0.99,1,1.01,1.02,1.03,1.04,1.05,1.06,1.07,1.08,1.09,1.1,1.11,1.12,1.13,1.14,1.15,1.16,1.17,1.18,1.19,1.2,1.21,1.22,1.23], "labels": false, "title": null, "tickSize": {"condition": {"test": "abs(datum.value*20-round(datum.value*20))<0.01", "value": -8}, "value": -4.5}}},
     "yError": {"field": "ye"},
     "color": {"field": "s", "type": "nominal", "scale": {"domain": ["r", "b"], "range": ["#e8202a", "#2a35b5"]}, "legend": null}}},
   {"data": {"name": "pts"}, "transform": [{"filter": "datum.p=='b'"}], "mark": {"type": "errorbar", "thickness": 2, "clip": true},
    "encoding": {"x": {"field": "e", "type": "quantitative", "scale": {"domain": [2.89, 7.792], "nice": false, "zero": false}, "axis": null},
     "y": {"field": "r", "type": "quantitative", "scale": {"domain": [0.929, 1.231], "nice": false, "zero": false}, "axis": null},
     "xError": {"field": "xe"},
     "color": {"field": "s", "type": "nominal", "scale": {"domain": ["r", "b"], "range": ["#e8202a", "#2a35b5"]}, "legend": null}}},
   {"data": {"name": "model"}, "transform": [{"filter": "datum.p=='b'"}], "mark": {"type": "line", "color": "black", "strokeWidth": 2.2, "strokeDash": [4, 2.5], "clip": true},
    "encoding": {"x": {"field": "e", "type": "quantitative", "scale": {"domain": [2.89, 7.792], "nice": false, "zero": false}, "axis": {"orient": "top", "values": [3,3.2,3.4,3.6,3.8,4,4.2,4.4,4.6,4.8,5,5.2,5.4,5.6,5.8,6,6.2,6.4,6.6,6.8,7,7.2,7.4,7.6], "labels": false, "title": null, "tickSize": {"condition": {"test": "abs(datum.value-round(datum.value))<0.01", "value": -7}, "value": -4}}},
     "y": {"field": "r", "type": "quantitative", "scale": {"domain": [0.929, 1.231], "nice": false, "zero": false}, "axis": {"orient": "right", "values": [0.93,0.94,0.95,0.96,0.97,0.98,0.99,1,1.01,1.02,1.03,1.04,1.05,1.06,1.07,1.08,1.09,1.1,1.11,1.12,1.13,1.14,1.15,1.16,1.17,1.18,1.19,1.2,1.21,1.22,1.23], "labels": false, "title": null, "tickSize": {"condition": {"test": "abs(datum.value*20-round(datum.value*20))<0.01", "value": -8}, "value": -4.5}}},
     "detail": {"field": "m"}}},
   {"data": {"name": "ttl"}, "transform": [{"filter": "datum.p=='b'"}], "mark": {"type": "text", "align": "left", "baseline": "alphabetic", "font": "Liberation Serif", "fontWeight": "bold", "fontSize": 13, "color": "black"},
    "encoding": {"x": {"field": "e", "type": "quantitative", "scale": {"domain": [2.89, 7.792], "nice": false, "zero": false}, "axis": null}, "y": {"field": "r", "type": "quantitative", "scale": {"domain": [0.929, 1.231], "nice": false, "zero": false}, "axis": null}, "text": {"field": "t"}}},
   {"data": {"name": "lab"}, "transform": [{"filter": "datum.p=='b'"}], "mark": {"type": "text", "align": "left", "baseline": "alphabetic", "font": "Liberation Serif", "fontStyle": "italic", "fontSize": 15, "text": "a"},
    "encoding": {"x": {"field": "e", "type": "quantitative", "scale": {"domain": [2.89, 7.792], "nice": false, "zero": false}, "axis": null}, "y": {"field": "r", "type": "quantitative", "scale": {"domain": [0.929, 1.231], "nice": false, "zero": false}, "axis": null}, "color": {"field": "s", "type": "nominal", "scale": {"domain": ["r", "b"], "range": ["#e8202a", "#2a35b5"]}, "legend": null}}},
   {"data": {"name": "lab"}, "transform": [{"filter": "datum.p=='b'"}], "mark": {"type": "text", "align": "left", "baseline": "alphabetic", "font": "Liberation Serif", "fontSize": 15, "dx": 15},
    "encoding": {"x": {"field": "e", "type": "quantitative", "scale": {"domain": [2.89, 7.792], "nice": false, "zero": false}, "axis": null}, "y": {"field": "r", "type": "quantitative", "scale": {"domain": [0.929, 1.231], "nice": false, "zero": false}, "axis": null}, "text": {"field": "t"}, "color": {"field": "s", "type": "nominal", "scale": {"domain": ["r", "b"], "range": ["#e8202a", "#2a35b5"]}, "legend": null}}}
  ],
  "resolve": {"axis": {"x": "independent", "y": "independent"}}
 },
 {"width": 262, "height": 262,
  "layer": [
   {"mark": {"type": "rule", "color": "black", "strokeWidth": 2}, "encoding": {"y": {"datum": 1, "type": "quantitative", "scale": {"domain": [0.929, 1.231], "nice": false, "zero": false}, "axis": null}}},
   {"data": {"name": "pts"}, "transform": [{"filter": "datum.p=='c'"}], "mark": {"type": "errorbar", "thickness": 2, "clip": true},
    "encoding": {"x": {"field": "e", "type": "quantitative", "scale": {"domain": [2.89, 7.792], "nice": false, "zero": false}, "axis": {"orient": "bottom", "values": [3,3.2,3.4,3.6,3.8,4,4.2,4.4,4.6,4.8,5,5.2,5.4,5.6,5.8,6,6.2,6.4,6.6,6.8,7,7.2,7.4,7.6], "labelExpr": "abs(datum.value-round(datum.value))<0.01 ? format(datum.value,'d') : ''", "tickSize": {"condition": {"test": "abs(datum.value-round(datum.value))<0.01", "value": -7}, "value": -4}, "labelPadding": 10, "title": "Energy [keV]", "titlePadding": -2}},
     "y": {"field": "r", "type": "quantitative", "scale": {"domain": [0.929, 1.231], "nice": false, "zero": false}, "axis": {"orient": "left", "values": [0.93,0.94,0.95,0.96,0.97,0.98,0.99,1,1.01,1.02,1.03,1.04,1.05,1.06,1.07,1.08,1.09,1.1,1.11,1.12,1.13,1.14,1.15,1.16,1.17,1.18,1.19,1.2,1.21,1.22,1.23], "labels": false, "title": null, "tickSize": {"condition": {"test": "abs(datum.value*20-round(datum.value*20))<0.01", "value": -8}, "value": -4.5}}},
     "yError": {"field": "ye"},
     "color": {"field": "s", "type": "nominal", "scale": {"domain": ["r", "b"], "range": ["#e8202a", "#2a35b5"]}, "legend": null}}},
   {"data": {"name": "pts"}, "transform": [{"filter": "datum.p=='c'"}], "mark": {"type": "errorbar", "thickness": 2, "clip": true},
    "encoding": {"x": {"field": "e", "type": "quantitative", "scale": {"domain": [2.89, 7.792], "nice": false, "zero": false}, "axis": null},
     "y": {"field": "r", "type": "quantitative", "scale": {"domain": [0.929, 1.231], "nice": false, "zero": false}, "axis": null},
     "xError": {"field": "xe"},
     "color": {"field": "s", "type": "nominal", "scale": {"domain": ["r", "b"], "range": ["#e8202a", "#2a35b5"]}, "legend": null}}},
   {"data": {"name": "model"}, "transform": [{"filter": "datum.p=='c'"}], "mark": {"type": "line", "color": "black", "strokeWidth": 2.2, "strokeDash": [4, 2.5], "clip": true},
    "encoding": {"x": {"field": "e", "type": "quantitative", "scale": {"domain": [2.89, 7.792], "nice": false, "zero": false}, "axis": {"orient": "top", "values": [3,3.2,3.4,3.6,3.8,4,4.2,4.4,4.6,4.8,5,5.2,5.4,5.6,5.8,6,6.2,6.4,6.6,6.8,7,7.2,7.4,7.6], "labels": false, "title": null, "tickSize": {"condition": {"test": "abs(datum.value-round(datum.value))<0.01", "value": -7}, "value": -4}}},
     "y": {"field": "r", "type": "quantitative", "scale": {"domain": [0.929, 1.231], "nice": false, "zero": false}, "axis": {"orient": "right", "values": [0.93,0.94,0.95,0.96,0.97,0.98,0.99,1,1.01,1.02,1.03,1.04,1.05,1.06,1.07,1.08,1.09,1.1,1.11,1.12,1.13,1.14,1.15,1.16,1.17,1.18,1.19,1.2,1.21,1.22,1.23], "labels": false, "title": null, "tickSize": {"condition": {"test": "abs(datum.value*20-round(datum.value*20))<0.01", "value": -8}, "value": -4.5}}},
     "detail": {"field": "m"}}},
   {"data": {"name": "ttl"}, "transform": [{"filter": "datum.p=='c'"}], "mark": {"type": "text", "align": "left", "baseline": "alphabetic", "font": "Liberation Serif", "fontWeight": "bold", "fontSize": 13, "color": "black"},
    "encoding": {"x": {"field": "e", "type": "quantitative", "scale": {"domain": [2.89, 7.792], "nice": false, "zero": false}, "axis": null}, "y": {"field": "r", "type": "quantitative", "scale": {"domain": [0.929, 1.231], "nice": false, "zero": false}, "axis": null}, "text": {"field": "t"}}},
   {"data": {"name": "lab"}, "transform": [{"filter": "datum.p=='c'"}], "mark": {"type": "text", "align": "left", "baseline": "alphabetic", "font": "Liberation Serif", "fontStyle": "italic", "fontSize": 15, "text": "a"},
    "encoding": {"x": {"field": "e", "type": "quantitative", "scale": {"domain": [2.89, 7.792], "nice": false, "zero": false}, "axis": null}, "y": {"field": "r", "type": "quantitative", "scale": {"domain": [0.929, 1.231], "nice": false, "zero": false}, "axis": null}, "color": {"field": "s", "type": "nominal", "scale": {"domain": ["r", "b"], "range": ["#e8202a", "#2a35b5"]}, "legend": null}}},
   {"data": {"name": "lab"}, "transform": [{"filter": "datum.p=='c'"}], "mark": {"type": "text", "align": "left", "baseline": "alphabetic", "font": "Liberation Serif", "fontSize": 15, "dx": 15},
    "encoding": {"x": {"field": "e", "type": "quantitative", "scale": {"domain": [2.89, 7.792], "nice": false, "zero": false}, "axis": null}, "y": {"field": "r", "type": "quantitative", "scale": {"domain": [0.929, 1.231], "nice": false, "zero": false}, "axis": null}, "text": {"field": "t"}, "color": {"field": "s", "type": "nominal", "scale": {"domain": ["r", "b"], "range": ["#e8202a", "#2a35b5"]}, "legend": null}}}
  ],
  "resolve": {"axis": {"x": "independent", "y": "independent"}}
 }
]
}
